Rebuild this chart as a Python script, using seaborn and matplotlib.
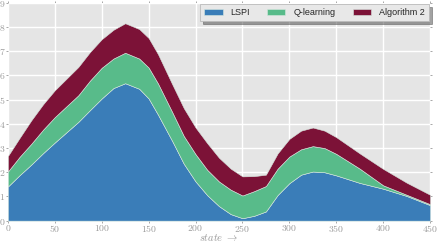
import matplotlib
matplotlib.use("Agg")
import matplotlib.pyplot as plt
import seaborn as sns
import pandas as pd

# state values and the stacked tops of the three layers
states = [0, 12.5, 25, 37.5, 50, 75, 87.5, 100, 112.5, 125, 140, 150, 160, 175,
          187.5, 200, 212.5, 225, 237.5, 250, 262.5, 275, 287.5, 300, 312.5,
          325, 337.5, 350, 375, 400, 425, 450]
lspi_top = [1.41, 1.88, 2.32, 2.79, 3.23, 4.08, 4.57, 5.05, 5.48, 5.68, 5.45,
            5.05, 4.38, 3.30, 2.35, 1.62, 1.05, 0.60, 0.27, 0.10, 0.20, 0.38,
            1.06, 1.55, 1.90, 2.03, 2.00, 1.87, 1.56, 1.32, 1.02, 0.64]
qlearn_top = [2.03, 2.64, 3.18, 3.76, 4.28, 5.18, 5.79, 6.32, 6.70, 6.94, 6.70,
              6.33, 5.67, 4.50, 3.50, 2.75, 2.10, 1.62, 1.28, 1.04, 1.22, 1.43,
              2.15, 2.65, 2.95, 3.08, 3.00, 2.76, 2.15, 1.46, 1.07, 0.68]
algo_top = [2.67, 3.42, 4.15, 4.81, 5.39, 6.35, 6.97, 7.50, 7.89, 8.16, 7.92,
            7.55, 6.88, 5.65, 4.65, 3.85, 3.20, 2.60, 2.15, 1.83, 1.84, 1.90,
            2.78, 3.38, 3.72, 3.85, 3.72, 3.45, 2.78, 2.14, 1.57, 1.07]
labels = ["LSPI", "Q-learning", "Algorithm 2"]
colors = ["#3A7DB8", "#58BB8A", "#7C1237"]

df = pd.DataFrame({"state": states, "LSPI": lspi_top,
                   "Q-learning": [q - l for q, l in zip(qlearn_top, lspi_top)],
                   "Algorithm 2": [a - q for a, q in zip(algo_top, qlearn_top)]})

sns.set_theme(style="darkgrid", rc={
    "axes.facecolor": "#E5E5E5",
    "grid.color": "white",
    "grid.linewidth": 1.0,
    "xtick.bottom": True, "xtick.top": True,
    "ytick.left": True, "ytick.right": True,
})
plt.rcParams["font.family"] = ["cmr10", "DejaVu Serif"]
plt.rcParams["mathtext.fontset"] = "cm"
plt.rcParams["axes.formatter.use_mathtext"] = True

fig, ax = plt.subplots(figsize=(4.38, 2.43), dpi=100)
fig.subplots_adjust(left=0.018, right=0.982, top=0.988, bottom=0.092)

ax.stackplot(df["state"], df["LSPI"], df["Q-learning"], df["Algorithm 2"],
             labels=labels, colors=sns.color_palette(colors),
             edgecolor="#d8e8e0", linewidth=0.4)

ax.set_xlim(0, 450)
ax.set_ylim(0, 9)
ax.set_xticks(range(0, 451, 50))
ax.set_yticks(range(0, 10))
for s in ax.spines.values():
    s.set_visible(False)
ax.tick_params(axis="both", direction="out", length=1.5, width=0.6,
               color="#999999", labelcolor="#9a9a9a", labelsize=7, pad=0.4)
ax.set_xlabel(r"$state\ \rightarrow$", fontsize=7.5, color="#9a9a9a", labelpad=-1.5)

leg = ax.legend(loc="upper right", ncol=3, fancybox=False, shadow=True,
                prop={"family": "Liberation Sans", "size": 6.5},
                facecolor="#E8E8E8", edgecolor="#bbbbbb", framealpha=1,
                borderaxespad=0.15, borderpad=0.45, handlelength=2.0,
                handletextpad=0.9, columnspacing=1.9, handleheight=0.75)
leg.get_frame().set_linewidth(0.6)

fig.savefig("out.png", dpi=100)
